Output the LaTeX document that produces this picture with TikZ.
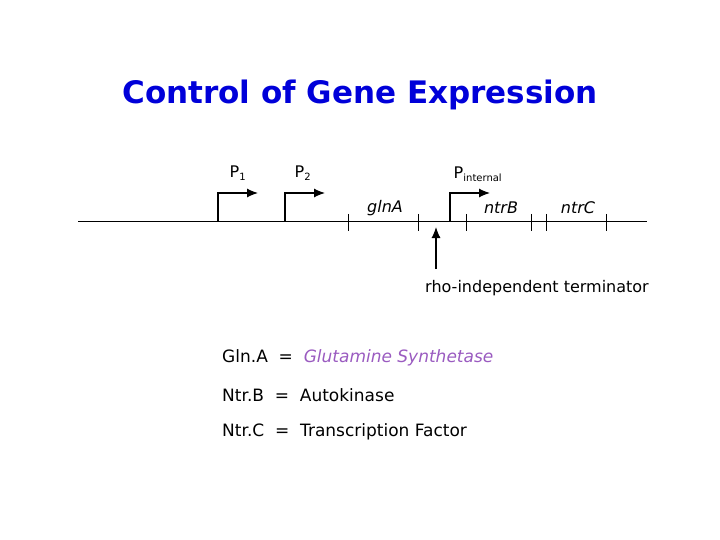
\documentclass[tikz,border=0pt]{standalone}
\usepackage{fontspec}
\setmainfont{DejaVu Sans}
\usetikzlibrary{arrows.meta}
\begin{document}
\begin{tikzpicture}[x=1pt,y=-1pt,
  lbl/.style={inner sep=0pt,font=\fontsize{16}{19}\selectfont},
  big/.style={inner sep=0pt,font=\fontsize{17}{20}\selectfont},
  gene/.style={inner sep=0pt,font=\fontsize{16}{19}\selectfont\itshape},
  tick/.style={line width=1pt},
  prom/.style={line width=1.1pt,-{Latex[length=11pt,width=9pt]}}]
\useasboundingbox (0,0) rectangle (720,540);
\node[inner sep=0pt,text=blue!85!black,font=\fontsize{31}{36}\selectfont\bfseries] (title) at (360,95) {Control of Gene Expression};
\coordinate (L) at (78,222); \coordinate (R) at (647,222);
\draw[line width=1pt] (L) -- (R);
\foreach \x/\n in {348/t1,418/t2,466/t3,531/t4,546/t5,606/t6}{
  \coordinate (\n a) at (\x,214); \coordinate (\n b) at (\x,231);
  \draw[tick] (\n a) -- (\n b);}
\foreach \x/\n in {218/p1,285/p2,450/p3}{
  \coordinate (\n s) at (\x,222); \coordinate (\n c) at (\x,193); \coordinate (\n e) at (\x+40,193);
  \draw[prom] (\n s) -- (\n c) -- (\n e);}
\node[lbl] (P1) at (238,173) {P\textsubscript{\normalsize 1}};
\node[lbl] (P2) at (303,173) {P\textsubscript{\normalsize 2}};
\node[lbl] (P3) at (478,174) {P\textsubscript{\normalsize internal}};
\node[gene] (glnA) at (385,208) {glnA};
\node[gene] (ntrB) at (501,208) {ntrB};
\node[gene] (ntrC) at (578,208) {ntrC};
\coordinate (ta) at (436,269); \coordinate (tb) at (436,227);
\draw[prom] (ta) -- (tb);
\node[lbl] (term) at (537,288) {rho-independent terminator};
\node[big,anchor=west] (g1) at (222,358) {Gln.A \ = \ \textcolor[HTML]{9A5BC0}{\itshape Glutamine Synthetase}};
\node[big,anchor=west] (g2) at (222,395) {Ntr.B \ = \ Autokinase};
\node[big,anchor=west] (g3) at (222,432) {Ntr.C \ = \ Transcription Factor};
\end{tikzpicture}
\end{document}
